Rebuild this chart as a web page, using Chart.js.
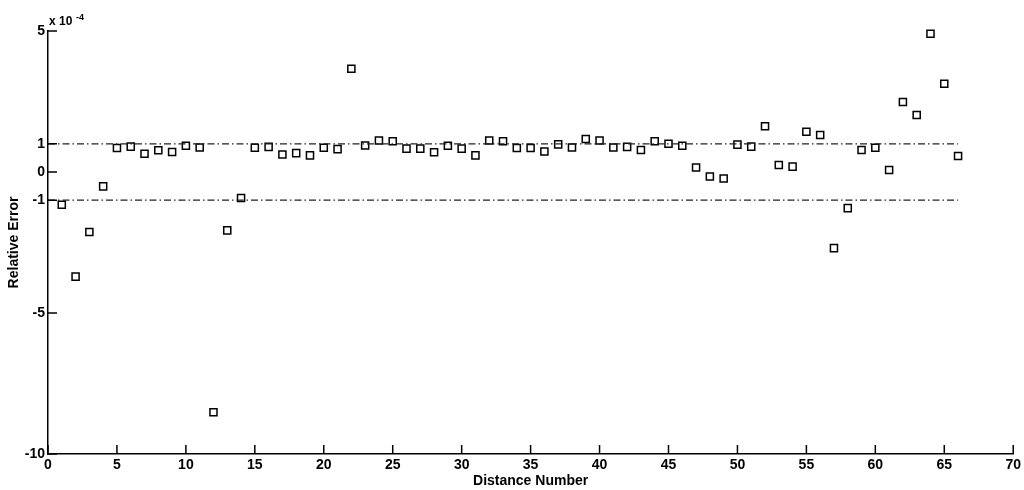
<!DOCTYPE html>
<html>
<head>
<meta charset="utf-8">
<script src="https://cdn.jsdelivr.net/npm/chart.js@4/dist/chart.umd.min.js"></script>
<style>
  html, body { margin: 0; padding: 0; background: #fff; }
  #wrap { width: 1024px; height: 490px; }
</style>
</head>
<body>
<div id="wrap"><canvas id="ErrorChart"></canvas></div>
<script>
// distance numbers 1..66
const distance_numbers = [
    1, 2, 3, 4, 5, 6, 7, 8, 9, 10,
    11, 12, 13, 14, 15, 16, 17, 18, 19, 20,
    21, 22, 23, 24, 25, 26, 27, 28, 29, 30,
    31, 32, 33, 34, 35, 36, 37, 38, 39, 40,
    41, 42, 43, 44, 45, 46, 47, 48, 49, 50,
    51, 52, 53, 54, 55, 56, 57, 58, 59, 60,
    61, 62, 63, 64, 65, 66
];
// relative error, in units of 1e-4
const relative_error = [
    -1.16, -3.71, -2.13, -0.51, 0.85, 0.90, 0.65, 0.77, 0.71, 0.93,
    0.87, -8.52, -2.07, -0.92, 0.86, 0.89, 0.62, 0.67, 0.59, 0.86,
    0.81, 3.66, 0.94, 1.12, 1.09, 0.83, 0.83, 0.70, 0.93, 0.83,
    0.59, 1.12, 1.09, 0.85, 0.85, 0.73, 0.98, 0.87, 1.17, 1.12,
    0.87, 0.89, 0.78, 1.09, 1.00, 0.93, 0.16, -0.16, -0.23, 0.97,
    0.90, 1.62, 0.25, 0.19, 1.43, 1.31, -2.70, -1.28, 0.78, 0.86,
    0.07, 2.48, 2.02, 4.90, 3.13, 0.57
];
const bound_x = [0, 66];
const upper_bound = [1, 1];
const lower_bound = [-1, -1];
const y_tick_values = [-10, -5, -1, 0, 1, 5];

const font_family = '"Liberation Sans", Arial, sans-serif';

const toPoints = (xs, ys) => xs.map((x, i) => ({x: x, y: ys[i]}));

// MATLAB style ticks pointing into the plot + the x 10^-4 multiplier
const inwardTicks = {
    id: 'inwardTicks',
    afterDraw(chart) {
        const {ctx, chartArea: a, scales: {x, y}} = chart;
        ctx.save();
        ctx.strokeStyle = '#000';
        ctx.lineWidth = 1.5;
        ctx.beginPath();
        x.ticks.forEach(t => {
            const px = x.getPixelForValue(t.value);
            ctx.moveTo(px, a.bottom);
            ctx.lineTo(px, a.bottom - 9);
        });
        y.ticks.forEach(t => {
            const py = y.getPixelForValue(t.value);
            ctx.moveTo(a.left, py);
            ctx.lineTo(a.left + 9, py);
        });
        ctx.stroke();

        ctx.fillStyle = '#000';
        ctx.textBaseline = 'alphabetic';
        ctx.textAlign = 'left';
        ctx.font = 'bold 12px ' + font_family;
        ctx.fillText('x 10', 49, 25);
        ctx.font = 'bold 9px ' + font_family;
        ctx.fillText('-4', 76, 19.5);
        ctx.restore();
    }
};

const boundStyle = {
    showLine: true,
    borderColor: '#222',
    borderWidth: 1.3,
    borderDash: [7, 3, 1.5, 3],
    pointRadius: 0,
    fill: false
};

const configError = {
    type: 'scatter',
    data: {
        datasets: [
            Object.assign({label: 'upper', data: toPoints(bound_x, upper_bound)}, boundStyle),
            Object.assign({label: 'lower', data: toPoints(bound_x, lower_bound)}, boundStyle),
            {
                label: 'Relative Error',
                data: toPoints(distance_numbers, relative_error),
                pointStyle: 'rect',
                pointRadius: 5,
                borderColor: '#000',
                borderWidth: 1.5,
                backgroundColor: 'rgba(0,0,0,0)',
                clip: false
            }
        ]
    },
    options: {
        responsive: true,
        maintainAspectRatio: false,
        animation: false,
        events: [],
        layout: {
            padding: {top: 31, right: 10, left: 0, bottom: 0}
        },
        plugins: {
            legend: {display: false},
            tooltip: {enabled: false}
        },
        scales: {
            x: {
                type: 'linear',
                min: 0,
                max: 70,
                afterFit: s => { s.height = 36; },
                grid: {drawOnChartArea: false, drawTicks: false},
                border: {display: true, color: '#000', width: 1.5},
                ticks: {
                    stepSize: 5,
                    padding: 3,
                    color: '#000',
                    maxRotation: 0,
                    font: {family: font_family, size: 14, weight: 'bold'}
                },
                title: {
                    display: true,
                    text: 'Distance Number',
                    color: '#000',
                    padding: {top: 0, bottom: 0},
                    font: {family: font_family, size: 14, weight: 'bold'}
                }
            },
            y: {
                type: 'linear',
                min: -10,
                max: 5,
                afterFit: s => { s.width = 48; },
                afterBuildTicks: s => { s.ticks = y_tick_values.map(v => ({value: v})); },
                grid: {drawOnChartArea: false, drawTicks: false},
                border: {display: true, color: '#000', width: 1.5},
                ticks: {
                    padding: 3,
                    color: '#000',
                    font: {family: font_family, size: 14, weight: 'bold'}
                },
                title: {
                    display: true,
                    text: 'Relative Error',
                    color: '#000',
                    padding: {top: 6, bottom: 0},
                    font: {family: font_family, size: 14, weight: 'bold'}
                }
            }
        }
    },
    plugins: [inwardTicks]
};

const ErrorChart = new Chart(
    document.getElementById('ErrorChart'),
    configError
);
</script>
</body>
</html>
